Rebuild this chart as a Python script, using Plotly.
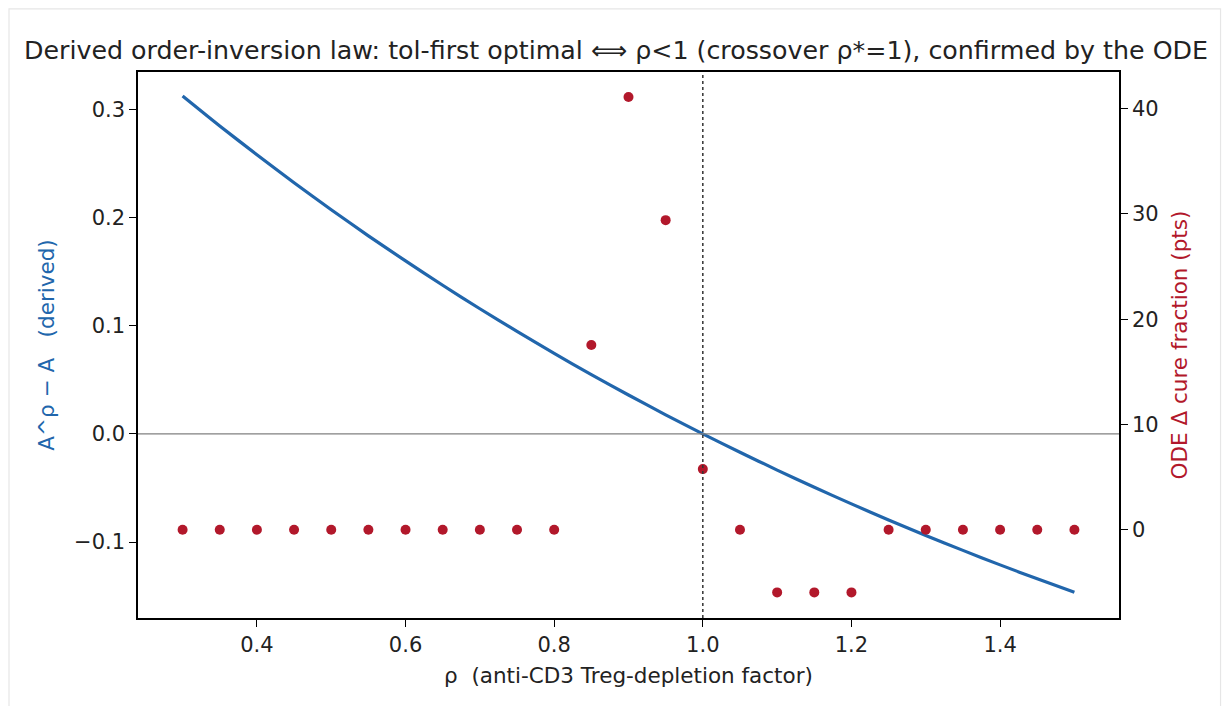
import plotly.graph_objects as go

# ---- data ----
rho = [0.30, 0.35, 0.40, 0.45, 0.50, 0.55, 0.60, 0.65, 0.70, 0.75, 0.80, 0.85,
       0.90, 0.95, 1.00, 1.05, 1.10, 1.15, 1.20, 1.25, 1.30, 1.35, 1.40, 1.45, 1.50]
derived = [0.3123, 0.2846, 0.2579, 0.2320, 0.2071, 0.1830, 0.1598, 0.1373, 0.1156,
           0.0946, 0.0743, 0.0548, 0.0359, 0.0176, 0.0000, -0.0170, -0.0335, -0.0494,
           -0.0647, -0.0796, -0.0939, -0.1077, -0.1211, -0.1340, -0.1464]
ode_delta = [0, 0, 0, 0, 0, 0, 0, 0, 0, 0, 0, 17.55, 41.1, 29.4, 5.76, 0,
             -5.95, -5.95, -5.95, 0, 0, 0, 0, 0, 0]
x_ticks = [0.4, 0.6, 0.8, 1.0, 1.2, 1.4]
y1_ticks = [-0.1, 0.0, 0.1, 0.2, 0.3]
y2_ticks = [0, 10, 20, 30, 40]

BLUE = "#2166ac"
RED = "#b2182b"
FONT = "DejaVu Sans"

fig = go.Figure()
fig.add_trace(go.Scatter(x=rho, y=derived, mode="lines",
                         line=dict(color=BLUE, width=3.2, shape="spline", smoothing=0.6),
                         showlegend=False, yaxis="y"))
fig.add_trace(go.Scatter(x=rho, y=ode_delta, mode="markers",
                         marker=dict(color=RED, size=10, line=dict(width=0)),
                         showlegend=False, yaxis="y2"))

axis_common = dict(showgrid=False, zeroline=False, ticks="outside", ticklen=7,
                   tickwidth=1.2, tickcolor="black", linecolor="black", linewidth=1.5,
                   showline=True, tickfont=dict(family=FONT, size=21, color="#222"))

fig.update_layout(
    width=1232, height=706,
    margin=dict(l=138, r=113, t=72, b=88),
    paper_bgcolor="white", plot_bgcolor="white",
    font=dict(family=FONT, color="#222"),
    title=dict(text="Derived order-inversion law: tol-first optimal ⟺ ρ<1 (crossover ρ*=1), confirmed by the ODE",
               x=0.5, xanchor="center", xref="container", y=1 - 50 / 706, yanchor="middle",
               yref="container", font=dict(family=FONT, size=25.3, color="#222")),
    xaxis=dict(range=[0.24, 1.56], tickvals=x_ticks, tickformat=".1f", mirror=True,
               title=dict(text="ρ  (anti-CD3 Treg-depletion factor)", standoff=12,
                          font=dict(family=FONT, size=21.5, color="#222")),
               **axis_common),
    yaxis=dict(range=[-0.1702, 0.3344], tickvals=y1_ticks, tickformat=".1f",
               title=dict(text="A^ρ − A   (derived)", standoff=14,
                          font=dict(family=FONT, size=21.5, color=BLUE)),
               **axis_common),
    yaxis2=dict(range=[-8.38, 43.47], tickvals=y2_ticks, overlaying="y", side="right",
                title=dict(text="ODE Δ cure fraction (pts)", standoff=14,
                           font=dict(family=FONT, size=21.5, color=RED)),
                **axis_common),
    shapes=[
        dict(type="line", xref="paper", x0=0, x1=1, yref="y", y0=0, y1=0,
             line=dict(color="#808080", width=1.2), layer="above"),
        dict(type="line", xref="x", x0=1.0, x1=1.0, yref="paper", y0=0, y1=1,
             line=dict(color="#333", width=1.5, dash="dot"), layer="above"),
        dict(type="rect", xref="paper", yref="paper", x0=-0.1315, x1=1.1035,
             y0=-0.3, y1=1.1155, line=dict(color="#e6e6e6", width=1.2),
             fillcolor="rgba(0,0,0,0)", layer="below"),
    ],
)

fig.write_html("out.html")
